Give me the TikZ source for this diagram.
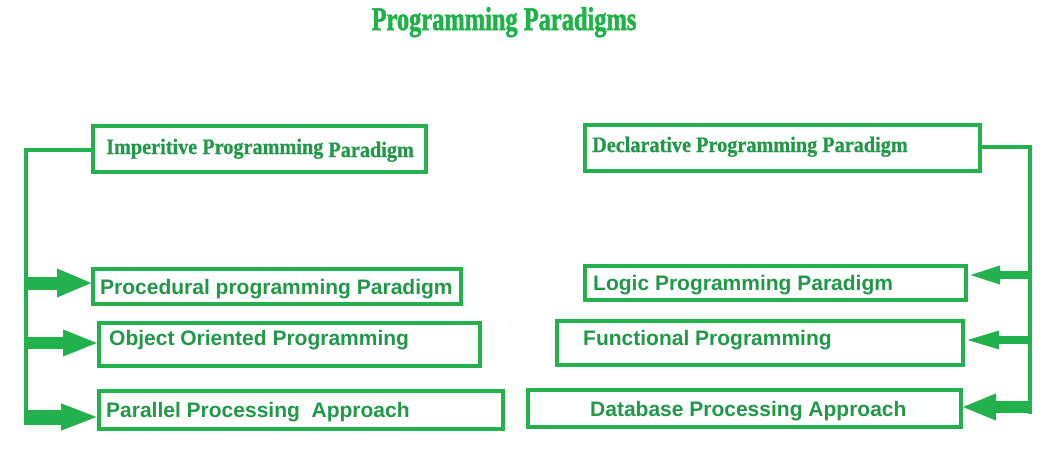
\documentclass[tikz,border=0pt]{standalone}
\usepackage{fontspec}
\setsansfont{Liberation Sans}
\newfontfamily\headfont[FakeStretch=0.92, FakeBold=0.8]{Liberation Serif Bold}
\newfontfamily\titlefont[FakeStretch=0.74, FakeBold=1.6]{Liberation Serif Bold}
\usetikzlibrary{arrows.meta}

\definecolor{paintgreen}{RGB}{34,177,76}
\definecolor{inkgreen}{RGB}{32,152,72}
\definecolor{titlegreen}{RGB}{30,178,72}

\begin{document}
\begin{tikzpicture}
[x=1pt, y=-1pt, line join=miter,
box/.style={draw=paintgreen, line width=4pt, rectangle, anchor=north west, inner sep=0pt, outer sep=0pt},
head/.style={anchor=base west, inner sep=0pt, text=inkgreen, font=\headfont\fontsize{22}{26}\selectfont},
item/.style={anchor=base west, inner sep=0pt, text=inkgreen, font=\sffamily\bfseries\fontsize{21}{25}\selectfont},
spine/.style={draw=paintgreen, line width=4pt},
flow/.style n args={3}{draw=paintgreen, line width=#1, -{Triangle[length=#2, width=#3]}}
]

\useasboundingbox (0,0) rectangle (1058,451);

\node[anchor=base, inner sep=0pt, text=titlegreen, font=\titlefont\fontsize{33}{38}\selectfont]
  (title) at (504,30) {Programming Paradigms};

% boxes
\node[box, minimum width=333pt, minimum height=46pt] (imp) at (93,126) {};
\node[box, minimum width=368pt, minimum height=35pt] (proc) at (93,269) {};
\node[box, minimum width=381pt, minimum height=43pt] (oop) at (99,323) {};
\node[box, minimum width=404pt, minimum height=38pt] (par) at (99,391) {};
\node[box, minimum width=395pt, minimum height=46pt] (decl) at (585,125) {};
\node[box, minimum width=381pt, minimum height=34pt] (logic) at (585,266) {};
\node[box, minimum width=406pt, minimum height=44pt] (func) at (557,321) {};
\node[box, minimum width=433pt, minimum height=37pt] (db) at (528,390) {};

% texts
\node[head] (imptxt) at (106,154) {Imperitive Programming \raisebox{-3pt}{Paradigm}};
\node[head] (decltxt) at (592,152) {Declarative Programming Paradigm};
\node[item] (proctxt) at (100,294) {Procedural programming Paradigm};
\node[item] (ooptxt) at (109,345) {Object Oriented Programming};
\node[item] (partxt) at (106,417) {Parallel Processing~~Approach};
\node[item] (logictxt) at (593,290) {Logic Programming Paradigm};
\node[item] (functxt) at (583,345) {Functional Programming};
\node[item] (dbtxt) at (590,416) {Database Processing Approach};

\path
coordinate (lbot) at (26,425)
coordinate (l1) at (26,283)
coordinate (l2) at (26,343)
coordinate (l3) at (26,417)
coordinate (rbot) at (1030,414)
coordinate (r1) at (1032,275)
coordinate (r2) at (1032,340)
coordinate (r3) at (1032,407)
;

% spines
\draw[spine] (imp.west |- 0,150) -| (lbot);
\draw[spine] (decl.east |- 0,147) -| (rbot);

% arrows
\draw[flow={13pt}{36pt}{26pt}] (l1) -- (l1 -| proc.west);
\draw[flow={12pt}{36pt}{24pt}] (l2) -- (l2 -| oop.west);
\draw[flow={15pt}{38pt}{24pt}] (l3) -- (l3 -| par.west);
\draw[flow={8pt}{34pt}{16pt}] (r1) -- (r1 -| logic.east);
\draw[flow={8pt}{36pt}{16pt}] (r2) -- (r2 -| func.east);
\draw[flow={12pt}{35pt}{24pt}] (r3) -- (r3 -| db.east);

\end{tikzpicture}
\end{document}
